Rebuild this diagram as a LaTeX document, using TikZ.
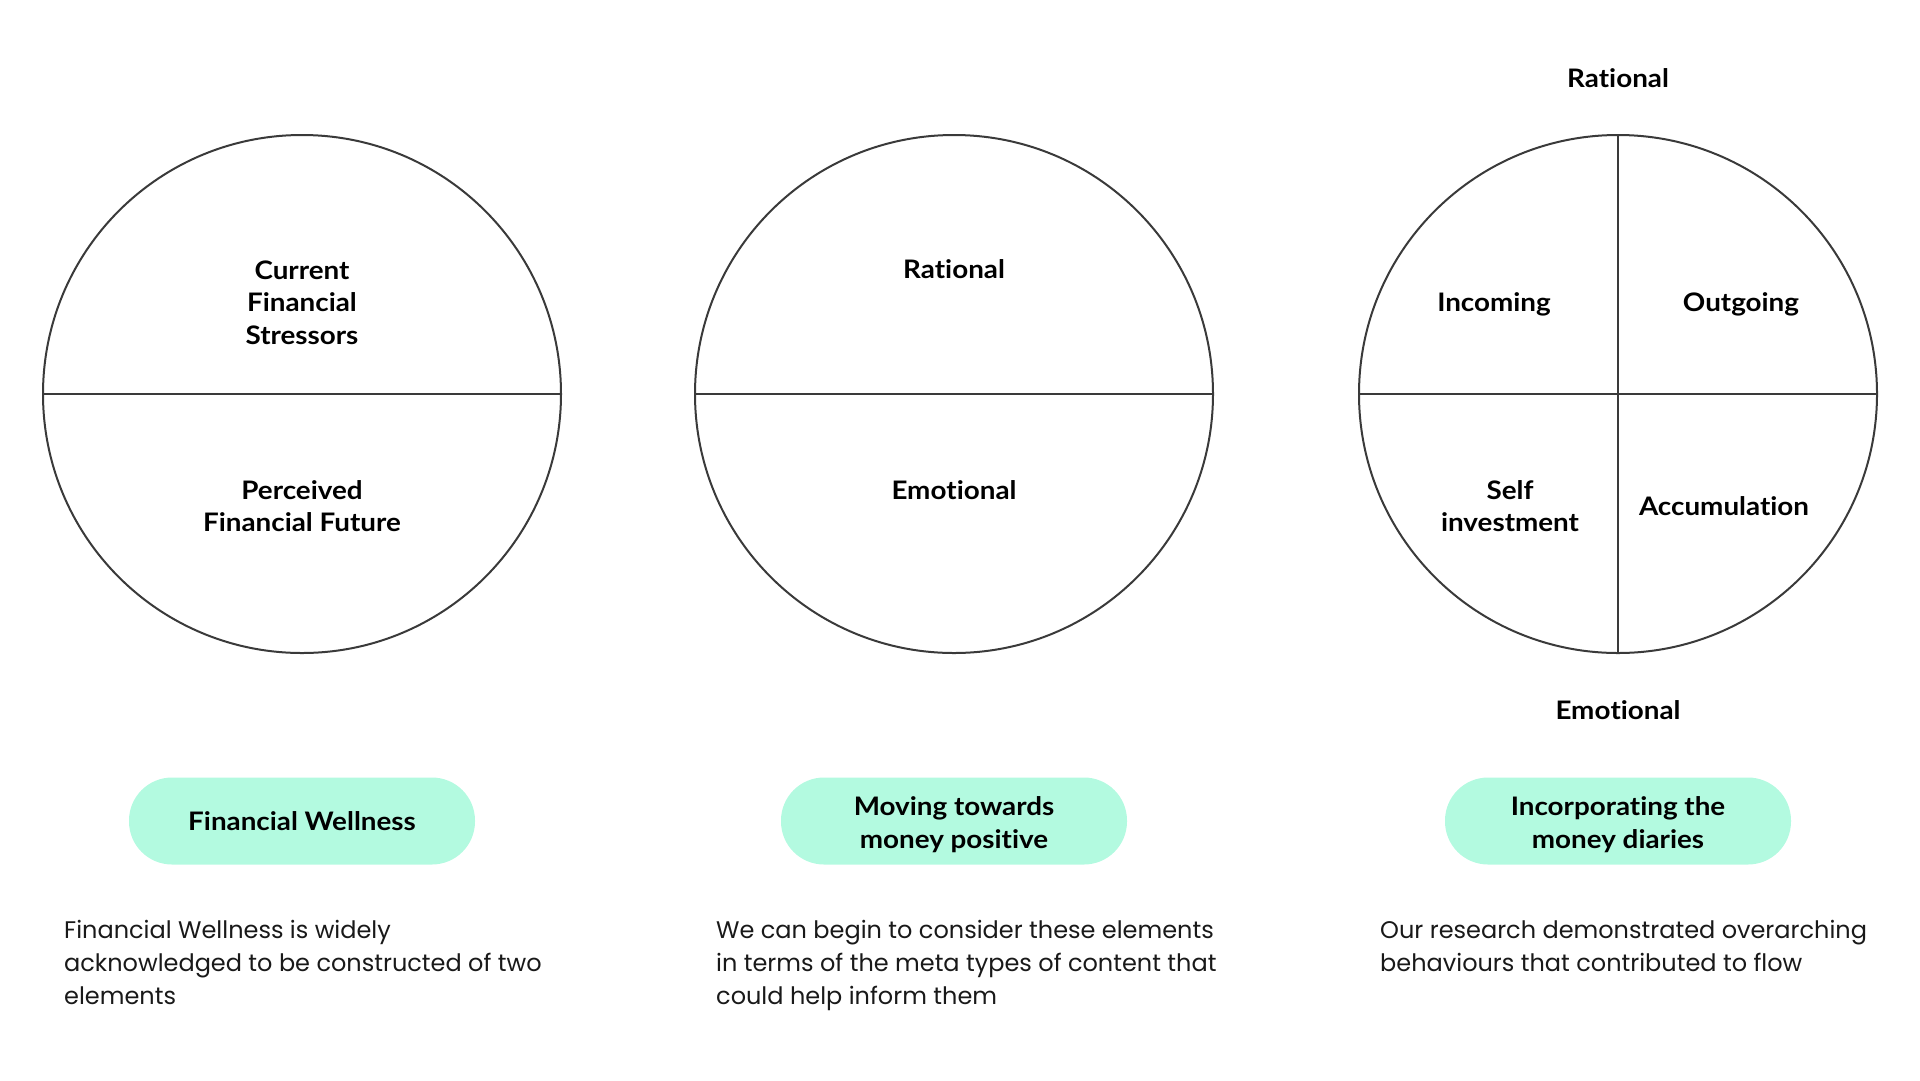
\documentclass[tikz,border=0pt]{standalone}
\usepackage{fontspec}
\setmainfont{Poppins}
\newfontfamily\labfont{Lato}[FakeStretch=1.09, RawFeature={-liga;-clig;-calt;-dlig}]
\definecolor{pill}{HTML}{B3FAE0}
\definecolor{ink}{HTML}{3A3A3A}
\tikzset{
  ring/.style={draw=ink, line width=2pt},
  divider/.style={draw=ink, line width=2pt},
  lab/.style={align=center, text=black, font=\labfont\bfseries\fontsize{25.5}{32.5}\selectfont},
  pillbox/.style={fill=pill, rounded corners=43pt, minimum width=346pt, minimum height=87pt, inner sep=0pt},
  body/.style={align=left, anchor=north west, inner sep=0pt, text=black!90, font=\fontsize{24}{33}\selectfont}
}
\begin{document}
\begin{tikzpicture}[x=1pt,y=-1pt]
\useasboundingbox (0,0) rectangle (1920,1080);
% circle 1
\coordinate (c1) at (302,394);
\coordinate (c1l) at (43,394);
\coordinate (c1r) at (561,394);
\draw[ring] (c1) circle (259);
\draw[divider] (c1l) -- (c1r);
\node[lab] (c1t) at (302,302.5) {Current\\Financial\\Stressors};
\node[lab] (c1b) at (302,506) {Perceived\\Financial Future};
% circle 2
\coordinate (c2) at (954,394);
\coordinate (c2l) at (695,394);
\coordinate (c2r) at (1213,394);
\draw[ring] (c2) circle (259);
\draw[divider] (c2l) -- (c2r);
\node[lab] (c2t) at (954,269.4) {Ra\kern0pt tional};
\node[lab] (c2b) at (954,490.5) {Emo\kern0pt tional};
% circle 3
\coordinate (c3) at (1618,394);
\coordinate (c3l) at (1359,394);
\coordinate (c3r) at (1877,394);
\coordinate (c3t) at (1618,135);
\coordinate (c3b) at (1618,653);
\draw[ring] (c3) circle (259);
\draw[divider] (c3l) -- (c3r);
\draw[divider] (c3t) -- (c3b);
\node[lab] (rat) at (1618,78) {Ra\kern0pt tional};
\node[lab] (emo) at (1618,710) {Emo\kern0pt tional};
\node[lab] (inc) at (1494,304.5) {Incoming};
\node[lab] (out) at (1741,304.5) {Outgoing};
\node[lab] (self) at (1510,506) {Self\\investment};
\node[lab] (acc) at (1724,506) {Accumulation};
% pills
\node[pillbox] (p1) at (302,821) {};
\node[pillbox] (p2) at (954,821) {};
\node[pillbox] (p3) at (1618,821) {};
\node[lab] (p1t) at (p1) {Financial Wellness};
\node[lab, yshift=-3.5pt] (p2t) at (p2) {Moving towards\\money positive};
\node[lab, yshift=-3.5pt] (p3t) at (p3) {Incorporating the\\money diaries};
% body text
\node[body] (t1) at (64,920) {Financial Wellness is widely\\acknowledged to be constructed of two\\elements};
\node[body] (t2) at (716,920) {We can begin to consider these elements\\in terms of the meta types of content that\\could help inform them};
\node[body] (t3) at (1380,920) {Our research demonstrated overarching\\behaviours that contributed to flow};
\end{tikzpicture}
\end{document}
